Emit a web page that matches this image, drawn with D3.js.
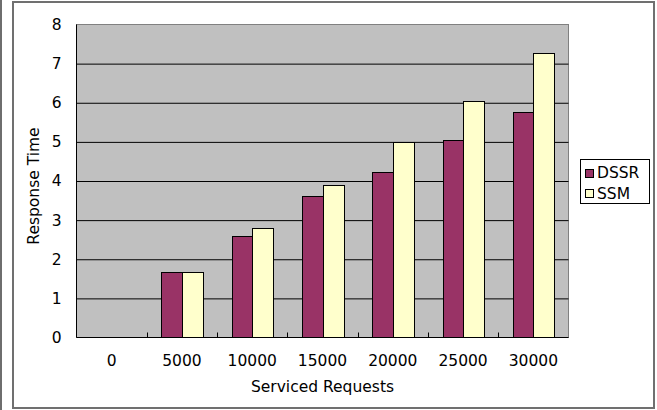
<!DOCTYPE html>
<html>
<head>
<meta charset="utf-8">
<script src="https://cdn.jsdelivr.net/npm/d3@7"></script>
<style>
html,body{margin:0;padding:0;background:#fff;}
svg{display:block;}
text{font-family:"DejaVu Sans",sans-serif;fill:#000;}
</style>
</head>
<body>
<div id="chart"></div>
<script>
const categories = ["0","5000","10000","15000","20000","25000","30000"];
const seriesNames = ["DSSR","SSM"];
const dssr = [0,1.68,2.6,3.61,4.23,5.04,5.76];
const ssm = [0,1.68,2.8,3.9,5.0,6.05,7.27];
const yTicks = [0,1,2,3,4,5,6,7,8];
const colors = ["#993366","#FFFFCC"];

(function(){
const W = 657, H = 410;
const svg = d3.select("#chart").append("svg").attr("width",W).attr("height",H);

// outer frame
svg.append("line").attr("x1",1).attr("x2",1).attr("y1",0).attr("y2",H).attr("stroke","#6e6e6e").attr("stroke-width",2);
svg.append("rect").attr("x",13).attr("y",2).attr("width",641).attr("height",406)
  .attr("fill","#fff").attr("stroke","#707070").attr("stroke-width",2);

const pL = 76.5, pR = 568.5, pT = 24.5, pB = 337.5;
const x = d3.scaleBand().domain(categories).range([pL,pR]).paddingInner(0).paddingOuter(0);
const bw = x.bandwidth();
const x1 = d3.scaleBand().domain(seriesNames).range([bw*0.208, bw*0.792]).padding(0);
const y = d3.scaleLinear().domain([0,8]).range([pB,pT]);

// plot area
svg.append("rect").attr("x",pL).attr("y",pT).attr("width",pR-pL).attr("height",pB-pT)
  .attr("fill","#C0C0C0").attr("stroke","#808080").attr("stroke-width",1);

// gridlines
const grid = svg.append("g").attr("transform",`translate(${pL},0)`)
  .call(d3.axisLeft(y).tickValues(yTicks.filter(v=>v>0&&v<8)).tickSize(-(pR-pL)).tickFormat(""));
grid.select(".domain").remove();
grid.selectAll("line").attr("stroke","#000");

// bars
const data = categories.map((c,i)=>({c, vals:[dssr[i], ssm[i]]}));
const groups = svg.append("g").selectAll("g").data(data).join("g")
  .attr("transform",d=>`translate(${x(d.c)},0)`);
groups.selectAll("rect").data(d=>d.vals.map((v,j)=>({v,s:seriesNames[j],j,off:x(d.c)})).filter(e=>e.v>0)).join("rect")
  .attr("x",e=>Math.round(e.off+x1(e.s))+0.5-e.off)
  .attr("width",e=>Math.round(x1.bandwidth()))
  .attr("y",e=>Math.round(y(e.v))+0.5)
  .attr("height",e=>pB-(Math.round(y(e.v))+0.5))
  .attr("fill",e=>colors[e.j]).attr("stroke","#000").attr("stroke-width",1);

// axis lines
svg.append("line").attr("x1",pL).attr("x2",pL).attr("y1",pT).attr("y2",pB).attr("stroke","#000");
svg.append("line").attr("x1",pL).attr("x2",pR).attr("y1",pB).attr("y2",pB).attr("stroke","#000");

// x tick marks at category boundaries (inside)
svg.append("g").selectAll("line").data(categories.slice(1)).join("line")
  .attr("x1",d=>Math.round(x(d))+0.5).attr("x2",d=>Math.round(x(d))+0.5)
  .attr("y1",pB).attr("y2",pB-5).attr("stroke","#000");

// y axis labels
const ya = svg.append("g").attr("transform",`translate(${pL},0)`)
  .call(d3.axisLeft(y).tickValues(yTicks).tickSize(0).tickPadding(15).tickFormat(d3.format("d")));
ya.select(".domain").remove();
ya.selectAll("text").style("font-size","15.5px").style("font-family","DejaVu Sans");

// x axis labels
const xa = svg.append("g").attr("transform",`translate(0,${pB})`)
  .call(d3.axisBottom(x).tickSize(0).tickPadding(17.5));
xa.select(".domain").remove();
xa.selectAll("text").style("font-size","15.5px").style("font-family","DejaVu Sans");

// axis titles
svg.append("text").attr("x",(pL+pR)/2).attr("y",391.5).attr("text-anchor","middle")
  .style("font-size","15.5px").text("Serviced Requests");
svg.append("text").attr("transform","translate(38.5,186) rotate(-90)").attr("text-anchor","middle")
  .style("font-size","15.5px").text("Response Time");

// legend
const lg = svg.append("g");
lg.append("rect").attr("x",580.5).attr("y",159.5).attr("width",69).attr("height",44)
  .attr("fill","#fff").attr("stroke","#000");
seriesNames.forEach((s,i)=>{
  const cy = 172.5 + i*20.5;
  lg.append("rect").attr("x",585.5).attr("y",Math.round(cy-4)+0.5).attr("width",8).attr("height",8)
    .attr("fill",colors[i]).attr("stroke","#000");
  lg.append("text").attr("x",597).attr("y",cy+5.5).style("font-size","15.5px").text(s);
});
})();
</script>
</body>
</html>
